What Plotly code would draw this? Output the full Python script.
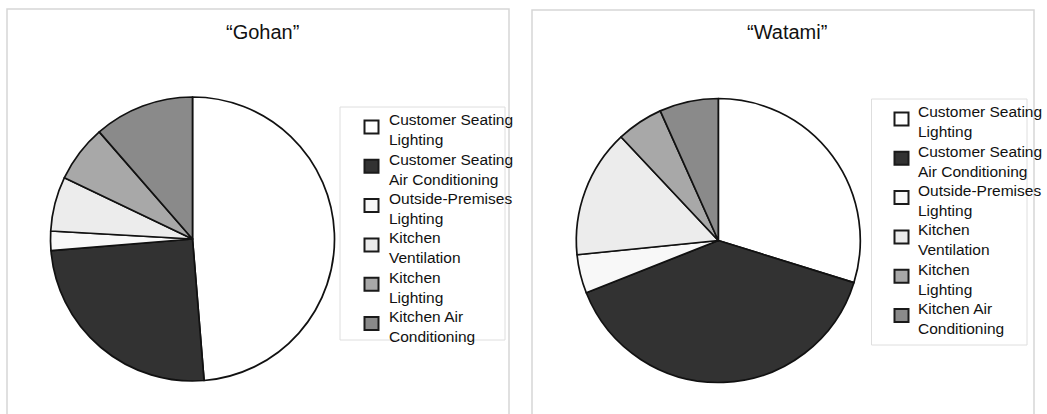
import plotly.graph_objects as go

categories = [
    "Customer Seating<br>Lighting",
    "Customer Seating<br>Air Conditioning",
    "Outside-Premises<br>Lighting",
    "Kitchen<br>Ventilation",
    "Kitchen<br>Lighting",
    "Kitchen Air<br>Conditioning",
]
gohan_values = [48.7, 25.0, 2.2, 6.2, 6.5, 11.4]
watami_values = [29.8, 39.2, 4.4, 14.6, 5.3, 6.7]
colors = ["#ffffff", "#323232", "#f8f8f8", "#ececec", "#a8a8a8", "#8a8a8a"]
titles = ["\u201cGohan\u201d", "\u201cWatami\u201d"]

W, H = 1047, 414
FONT = "Liberation Sans, Arial, sans-serif"
TXT = "#111111"


def px(x):
    return x / W


def py(y):
    return 1 - y / H


fig = go.Figure()
pies = [
    (gohan_values, (50.5, 334.5, 97, 381), "Gohan"),
    (watami_values, (576.3, 860.3, 98.5, 382.5), "Watami"),
]
for vals, (x0, x1, y0, y1), nm in pies:
    fig.add_trace(go.Pie(
        labels=categories, values=vals, sort=False, direction="clockwise",
        rotation=0, textinfo="none", hoverinfo="label+percent", showlegend=False,
        marker=dict(colors=colors, line=dict(color="#111111", width=1.7)),
        domain=dict(x=[px(x0), px(x1)], y=[py(y1), py(y0)]), name=nm,
    ))

shapes = [
    dict(type="rect", xref="paper", yref="paper", x0=px(7), x1=px(509),
         y0=-0.05, y1=py(9), line=dict(color="#d6d6d6", width=1.5), layer="below"),
    dict(type="rect", xref="paper", yref="paper", x0=px(532), x1=px(1034),
         y0=-0.05, y1=py(10), line=dict(color="#d6d6d6", width=1.5), layer="below"),
]
annotations = []
for t, cx in zip(titles, [262, 787]):
    annotations.append(dict(
        text=t, x=px(cx), y=py(32), xref="paper", yref="paper", showarrow=False,
        xanchor="center", yanchor="middle",
        font=dict(family=FONT, size=20, color=TXT)))

# manual legends (one per panel), labels/colours taken from the data lists
# (box x0, x1, y0, y1, symbol x, text x)
legend_boxes = [(340, 505, 107, 340, 364.5, 387), (871.5, 1027, 99, 345, 894.5, 916)]
FS = 15.5
for (bx0, bx1, by0, by1, sx0, tx) in legend_boxes:
    shapes.append(dict(type="rect", xref="paper", yref="paper",
                       x0=px(bx0), x1=px(bx1), y0=py(by1), y1=py(by0),
                       line=dict(color="#dedede", width=1)))
    for i, (lab, col) in enumerate(zip(categories, colors)):
        sc = by0 + 20 + i * 39.3
        shapes.append(dict(type="rect", xref="paper", yref="paper",
                           x0=px(sx0), x1=px(sx0 + 14), y0=py(sc + 6.5), y1=py(sc - 6.5),
                           fillcolor=col, line=dict(color="#1a1a1a", width=2)))
        annotations.append(dict(
            text=lab, x=px(tx), y=py(sc + 2.8),
            xref="paper", yref="paper", showarrow=False, align="left",
            xanchor="left", yanchor="middle",
            font=dict(family=FONT, size=FS, color=TXT)))

fig.update_layout(
    width=W, height=H, margin=dict(l=0, r=0, t=0, b=0),
    paper_bgcolor="white", plot_bgcolor="white",
    font=dict(family=FONT, color=TXT), showlegend=False,
    shapes=shapes, annotations=annotations,
)

fig.write_html("out.html")
